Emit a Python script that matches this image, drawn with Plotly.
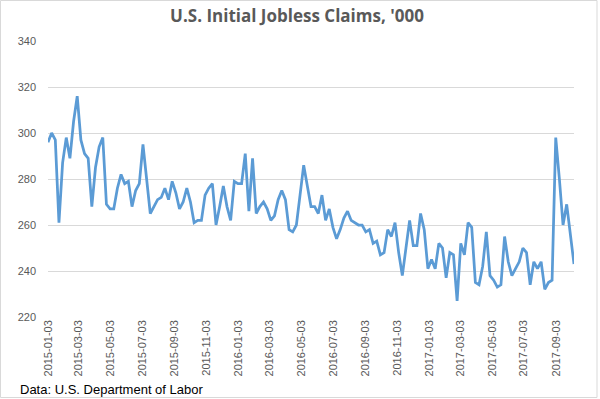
import datetime as dt
import plotly.graph_objects as go

start_date = "2015-01-03"
claims = [
    296, 300, 297, 261, 287, 298, 289, 305, 316, 297,
    291, 289, 268, 285, 294, 298, 269, 267, 267, 276,
    282, 278, 279, 268, 275, 278, 295, 281, 265, 268,
    271, 272, 276, 271, 279, 274, 267, 270, 276, 270,
    261, 262, 262, 273, 276, 278, 260, 268, 277, 268,
    262, 279, 278, 278, 291, 266, 289, 265, 268, 270,
    267, 262, 264, 271, 275, 271, 258, 257, 260, 273,
    286, 277, 268, 268, 265, 273, 262, 267, 259, 254,
    258, 263, 266, 262, 261, 260, 260, 257, 258, 252,
    253, 247, 248, 258, 255, 261, 248, 238, 250, 262,
    251, 251, 265, 258, 241, 245, 241, 252, 250, 237,
    248, 247, 227, 252, 247, 261, 259, 235, 234, 242,
    257, 238, 236, 233, 234, 255, 244, 238, 241, 244,
    250, 248, 234, 244, 241, 244, 232, 235, 236, 298,
    280, 260, 269, 256, 243,
]
tick_labels = [
    "2015-01-03", "2015-03-03", "2015-05-03", "2015-07-03", "2015-09-03",
    "2015-11-03", "2016-01-03", "2016-03-03", "2016-05-03", "2016-07-03",
    "2016-09-03", "2016-11-03", "2017-01-03", "2017-03-03", "2017-05-03",
    "2017-07-03", "2017-09-03",
]
y_ticks = [220, 240, 260, 280, 300, 320, 340]

d0 = dt.date.fromisoformat(start_date)
dates = [(d0 + dt.timedelta(days=7 * i)).isoformat() for i in range(len(claims))]

fig = go.Figure()
fig.add_trace(go.Scatter(
    x=dates, y=claims, mode="lines",
    line=dict(color="#5B9BD5", width=2.75),
    hoverinfo="x+y",
))

L, R, T, B = 48, 26, 41, 82
W, H = 600, 399
pw, ph = W - L - R, H - T - B

fig.update_layout(
    width=W, height=H,
    margin=dict(l=L, r=R, t=T, b=B),
    paper_bgcolor="white", plot_bgcolor="white",
    showlegend=False,
    font=dict(family="Liberation Sans, Arial, sans-serif", color="#595959", size=11),
    title=dict(
        text="U.S. Initial Jobless Claims, '000",
        x=0.495, xanchor="center", y=1 - 16 / H, yanchor="middle",
        font=dict(family="Open Sans, sans-serif", size=17, color="#595959", weight="bold"),
    ),
    xaxis=dict(
        type="date",
        range=[dates[0], dates[-1]],
        tickvals=tick_labels, ticktext=tick_labels,
        tickangle=-90, showgrid=False, zeroline=False, showline=False,
        ticks="", tickfont=dict(size=11, color="#595959"),
    ),
    yaxis=dict(
        range=[220, 340], tickvals=y_ticks,
        showgrid=True, gridcolor="#d9d9d9", gridwidth=1,
        zeroline=False, showline=False, ticks="",
        ticklabelstandoff=11,
        tickfont=dict(size=11, color="#595959"),
    ),
    annotations=[dict(
        text="Data: U.S. Department of Labor",
        xref="paper", yref="paper",
        x=(18 - L) / pw, y=(H - B - 389) / ph,
        xanchor="left", yanchor="middle", showarrow=False,
        font=dict(family="Liberation Sans, Arial, sans-serif", size=13, color="#000000"),
    )],
    shapes=[dict(
        type="rect", xref="paper", yref="paper",
        x0=(0.5 - L) / pw, x1=(597 - L) / pw,
        y0=(H - B - 397.5) / ph, y1=(H - B - 0.5) / ph,
        line=dict(color="#d9d9d9", width=1), fillcolor="rgba(0,0,0,0)",
        layer="below",
    )],
)

fig.write_html(
    "out.html",
    config={"displayModeBar": False},
    post_script="document.body.style.margin='0';document.body.style.overflow='hidden';",
)
